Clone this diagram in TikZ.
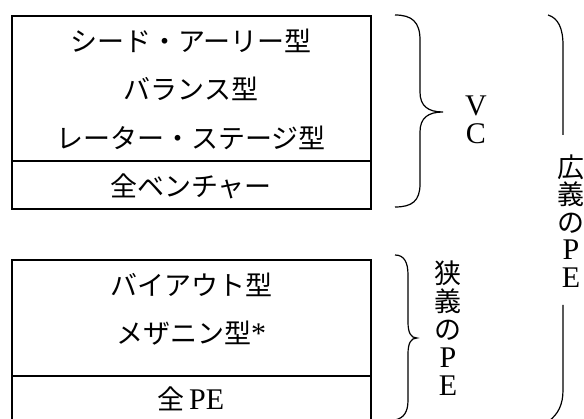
\documentclass[tikz,border=0pt]{standalone}
\usepackage{fontspec}
\newfontfamily\jp{Noto Sans CJK JP}
\newfontfamily\latn{Liberation Serif}
\newcommand\lm[1]{{\latn\fontsize{30}{28}\selectfont #1}}
\tikzset{
  boxline/.style={line width=1.6pt},
  bracel/.style={line width=1.2pt},
  lbl/.style={inner sep=0pt,text height=23.8pt,text depth=3.2pt,
    font=\fontsize{27}{28}\selectfont\jp},
}
\begin{document}
\begin{tikzpicture}[x=1pt,y=-1pt]
\useasboundingbox (0,0) rectangle (584,419);
\clip (0,0) rectangle (584,419);
% upper box (VC)
\draw[boxline] (12,16) rectangle (371,209);
\draw[boxline] (12,161) -- (371,161);
\node[lbl] (seed) at (191,41) {シード・アーリー型};
\node[lbl] (bal) at (191,89) {バランス型};
\node[lbl] (late) at (191,138) {レーター・ステージ型};
\node[lbl] (allvc) at (191,186) {全ベンチャー};
% lower box (PE)
\draw[boxline] (12,260) rectangle (371,440);
\draw[boxline] (12,376) -- (371,376);
\node[lbl] (buy) at (191,285) {バイアウト型};
\node[lbl] (mez) at (191,333) {メザニン型\lm{*}};
\node[lbl] (allpe) at (191,399) {全\,\lm{PE}};
% brace for VC
\draw[bracel] (395,15) .. controls (412,15) and (420,22) .. (420,40) -- (420,92)
  .. controls (420,106) and (428,112) .. (443,112)
  .. controls (428,112) and (420,118) .. (420,132) -- (420,184)
  .. controls (420,201) and (412,207) .. (395,207);
\foreach \c [count=\i] in {V,C}
  \node[lbl] (vc-\i) at (476,{77+28*\i}) {\lm{\c}};
% brace for narrow PE
\draw[bracel] (395,255) .. controls (404,255) and (408,262) .. (408,275) -- (408,322)
  .. controls (408,333) and (411,338) .. (417,338)
  .. controls (411,338) and (408,343) .. (408,354) -- (408,400)
  .. controls (408,412) and (404,418) .. (395,420);
\foreach \c [count=\i] in {狭,義,の,\lm{P},\lm{E}}
  \node[lbl] (narrow-\i) at (448,{245+28*\i}) {\c};
% bracket for wide PE
\draw[bracel] (548,15) .. controls (558,18) and (563,28) .. (563,45) -- (563,135);
\draw[bracel] (563,305) -- (563,390) .. controls (563,405) and (558,414) .. (549,421);
\foreach \c [count=\i] in {広,義,の,\lm{P},\lm{E}}
  \node[lbl] (wide-\i) at (571,{139.5+27.5*\i}) {\c};
\end{tikzpicture}
\end{document}
